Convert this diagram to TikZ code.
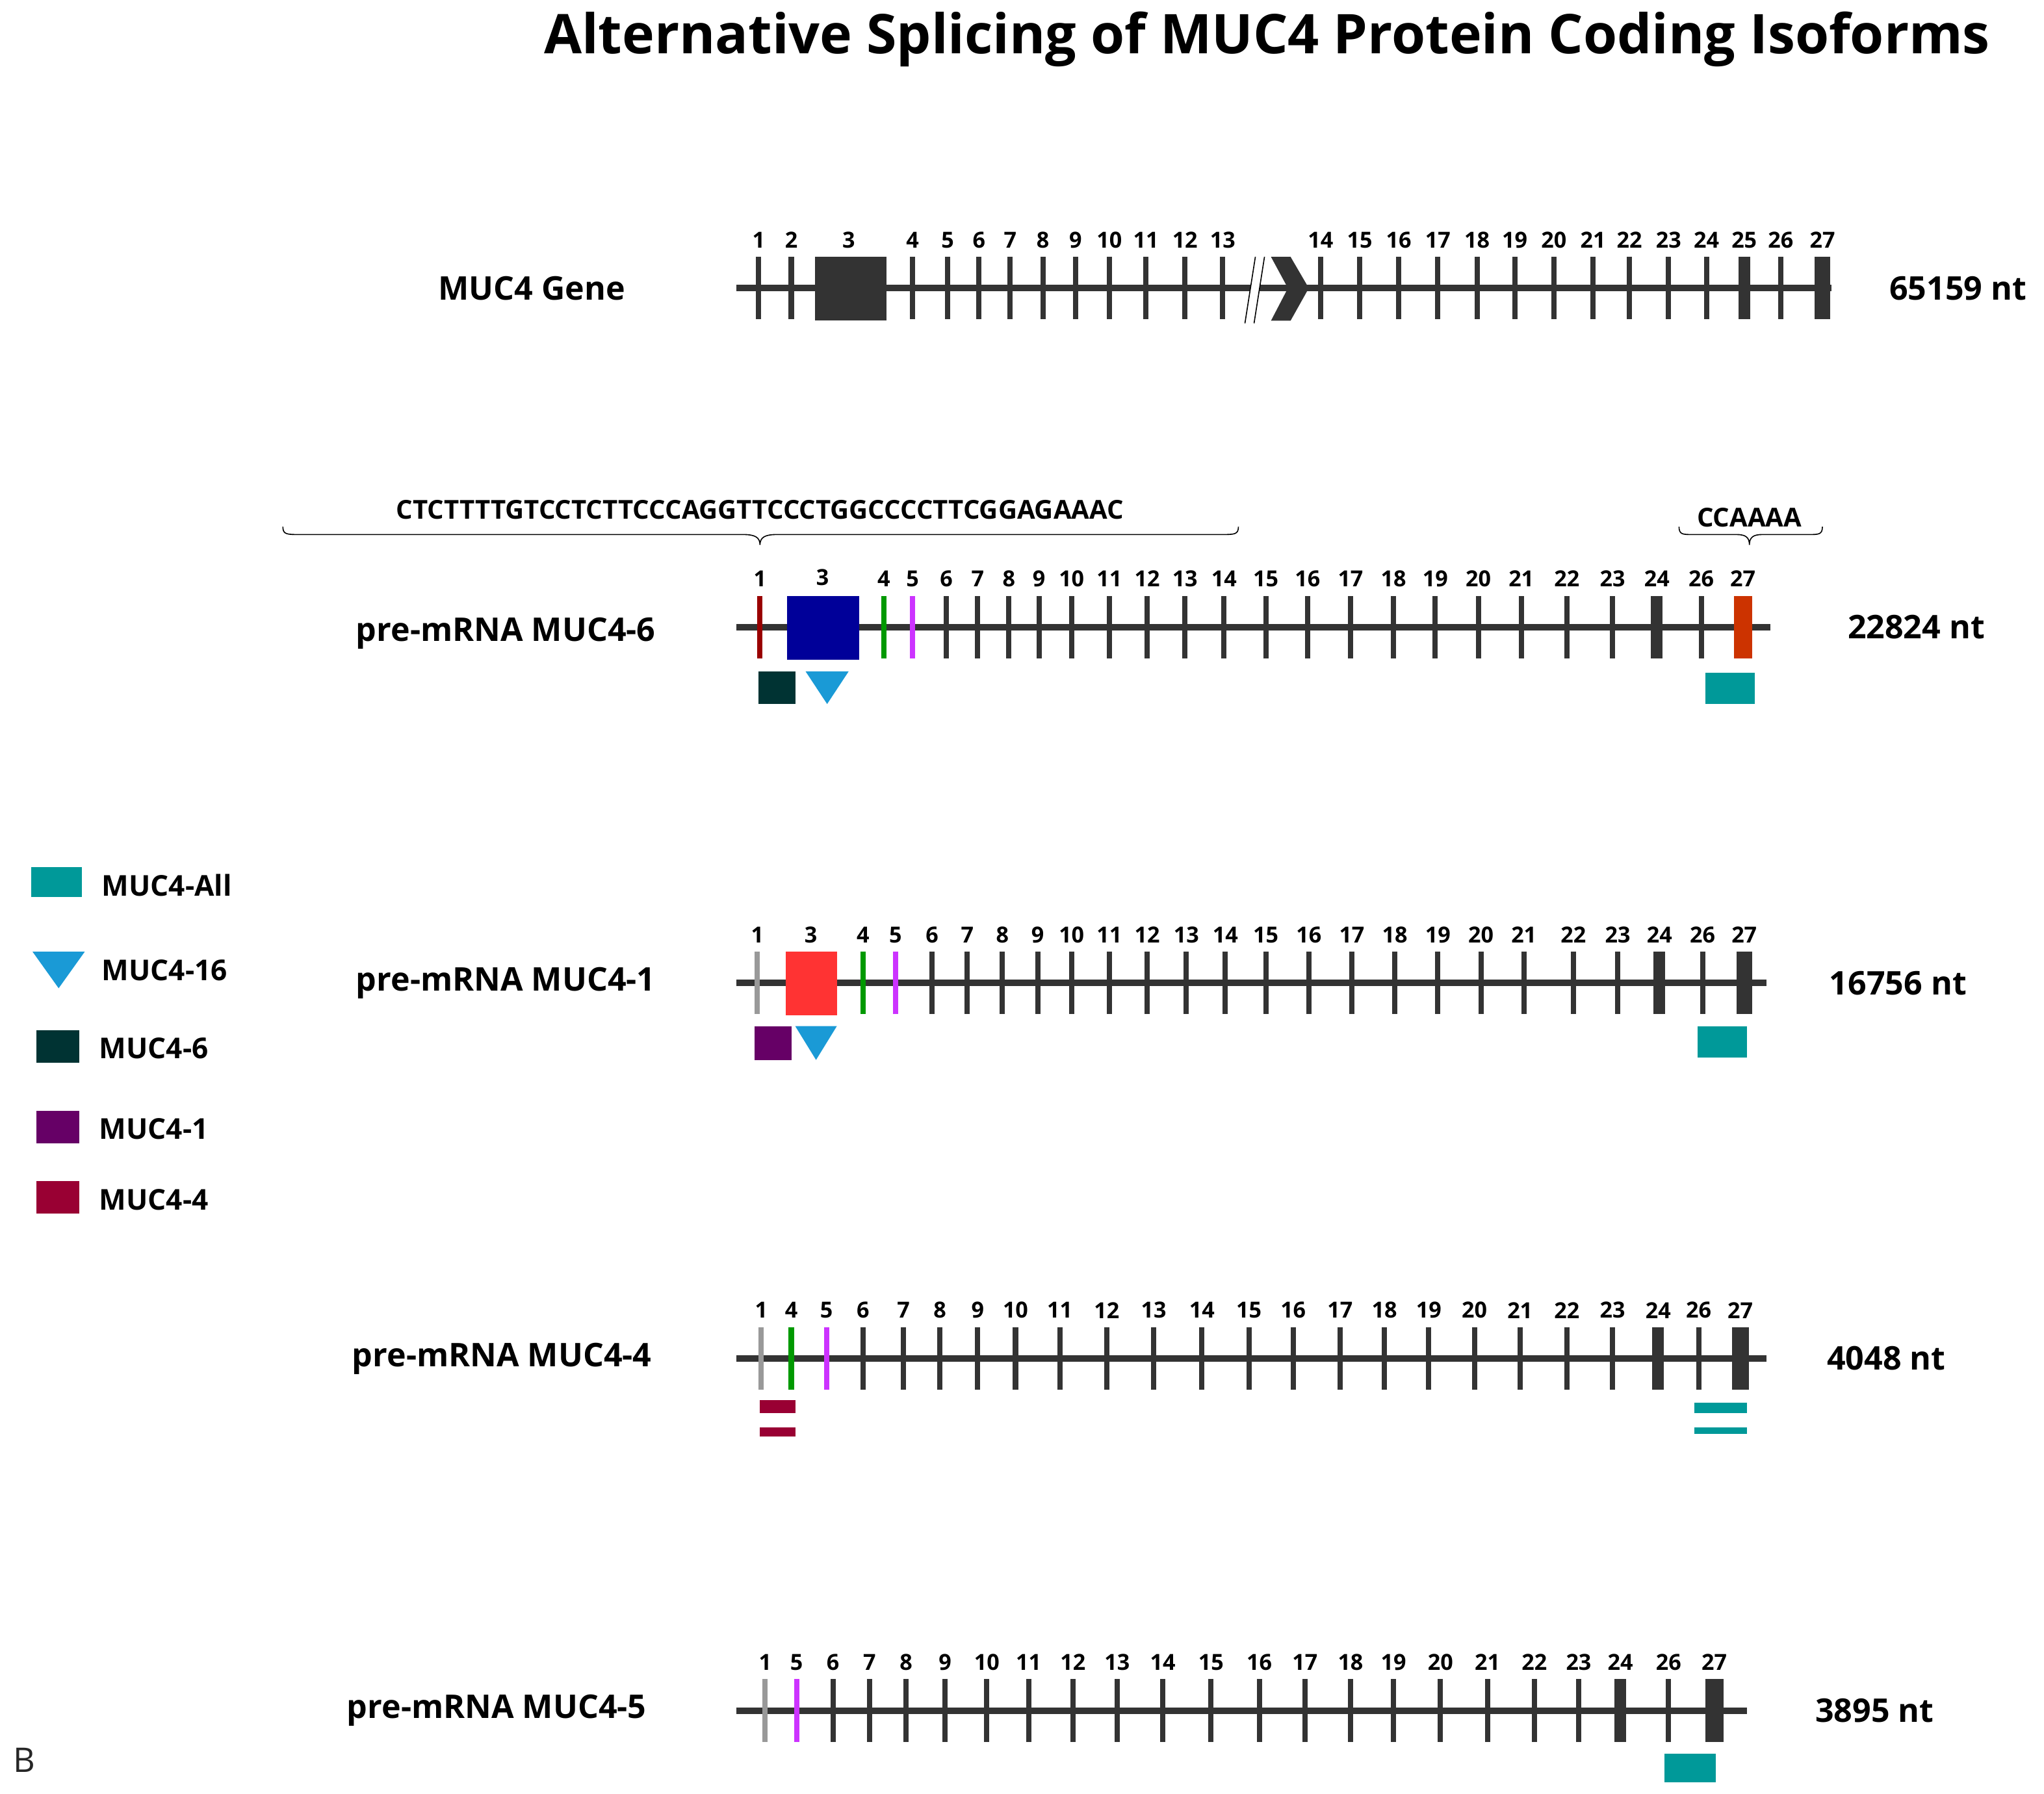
\documentclass[tikz,border=0pt]{standalone}
\usepackage{fontspec}
\setmainfont{Open Sans}
\begin{document}
\begin{tikzpicture}[x=1pt,y=-1pt,
  num/.style={font=\fontsize{17}{17}\selectfont\bfseries,inner sep=0},
  lab/.style={font=\fontsize{25}{25}\selectfont\bfseries,inner sep=0},
  bb/.style={line width=5pt,draw=black!80},
]
\definecolor{ex}{HTML}{333333}
\definecolor{teal}{HTML}{009999}
\definecolor{cyan}{HTML}{1A9AD6}
\definecolor{dteal}{HTML}{003333}
\definecolor{purp}{HTML}{660066}
\definecolor{crim}{HTML}{990033}
\definecolor{navy}{HTML}{000099}
\definecolor{lred}{HTML}{FF3333}
\definecolor{orng}{HTML}{CC3300}
\definecolor{dred}{HTML}{990000}
\definecolor{grn}{HTML}{009900}
\definecolor{mag}{HTML}{CC33FF}
\definecolor{gry}{HTML}{999999}
\useasboundingbox (0,0) rectangle (1568,1376);
\newcommand\thin[3]{\foreach \x/\l in {#2}{\fill[#3] (\x-2,#1-24) rectangle (\x+2,#1+24); \node[num] at (\x,#1-37) {\l};}}
\newcommand\thick[4]{\foreach \x/\l in {#2}{\fill[#4] (\x-#3,#1-24) rectangle (\x+#3,#1+24); \node[num] at (\x,#1-37) {\l};}}
\node[font=\fontsize{42}{42}\selectfont\bfseries,inner sep=0] (title) at (972,30) {Alternative Splicing of MUC4 Protein Coding Isoforms};
% Gene
\draw[bb] (565,221) -- (1405,221);
\thin{221}{582/1,607/2,700/4,727/5,751/6,775/7,800/8,825/9,851/10,879/11,909/12,938/13,1013/14,1043/15,1073/16,1103/17,1133/18,1162/19,1192/20,1222/21,1250/22,1280/23,1309/24,1366/26}{ex}
\thick{221}{1338/25}{4.5}{ex}
\thick{221}{1398/27}{6}{ex}
\fill[ex] (625,197) rectangle (680,246); \node[num] at (651,184) {3};
\fill[white] (955,248) -- (963,197) -- (970,197) -- (962,248) -- cycle;
\draw[line width=0.8pt] (955,248) -- (963,197) (962,248) -- (970,197);
\fill[ex] (975,197) -- (990,197) -- (1004,221) -- (990,246) -- (975,246) -- (988,221) -- cycle;
\node[lab] (g) at (408,221) {MUC4 Gene};
\node[lab] (gnt) at (1502,221) {65159 nt};
% MUC4-6
\draw[bb] (565,481) -- (1358,481);
\thin{481}{726/6,750/7,774/8,797/9,822/10,851/11,880/12,909/13,939/14,971/15,1003/16,1036/17,1069/18,1101/19,1134/20,1167/21,1202/22,1237/23,1305/26}{ex}
\thin{481}{583/1}{dred}\thin{481}{678/4}{grn}\thin{481}{700/5}{mag}
\thick{481}{1271/24}{4.5}{ex}
\thick{481}{1337/27}{7}{orng}
\fill[navy] (604,457) rectangle (659,506); \node[num] at (631,443) {3};
\node[lab] at (388,486) {pre-mRNA MUC4-6};
\node[lab] at (1470,481) {22824 nt};
\fill[dteal] (582,515) rectangle (610,540);
\fill[cyan] (618,515) -- (651,515) -- (634.5,540) -- cycle;
\fill[teal] (1308,516) rectangle (1346,540);
\node[font=\fontsize{20}{20}\selectfont\bfseries,inner sep=0] at (583,391) {CTCTTTTGTCCTCTTCCCAGGTTCCCTGGCCCCTTCGGAGAAAC};
\draw[line width=0.8pt] (217,404) .. controls (217,410) and (220,410) .. (230,410) -- (570,410) .. controls (579,410) and (583,412) .. (583,418) .. controls (583,412) and (587,410) .. (596,410) -- (937,410) .. controls (947,410) and (950,410) .. (950,404);
\node[font=\fontsize{20}{20}\selectfont\bfseries,inner sep=0] at (1342,397) {CCAAAA};
\draw[line width=0.8pt] (1288,404) .. controls (1288,410) and (1291,410) .. (1298,410) -- (1332,410) .. controls (1339,410) and (1342,412) .. (1342,418) .. controls (1342,412) and (1345,410) .. (1352,410) -- (1388,410) .. controls (1395,410) and (1398,410) .. (1398,404);
% MUC4-1
\draw[bb] (565,754) -- (1355,754);
\thin{754}{715/6,742/7,769/8,796/9,822/10,851/11,880/12,910/13,940/14,971/15,1004/16,1037/17,1070/18,1103/19,1136/20,1169/21,1207/22,1241/23,1306/26}{ex}
\thin{754}{581/1}{gry}\thin{754}{662/4}{grn}\thin{754}{687/5}{mag}
\thick{754}{1273/24}{4.5}{ex}
\thick{754}{1338/27}{6}{ex}
\fill[lred] (603,730) rectangle (642,779); \node[num] at (622,717) {3};
\node[lab] at (388,754) {pre-mRNA MUC4-1};
\node[lab] at (1456,754) {16756 nt};
\fill[purp] (579,787) rectangle (607,813);
\fill[cyan] (610,787) -- (642,787) -- (626,813) -- cycle;
\fill[teal] (1302,787) rectangle (1340,811);
% MUC4-4
\draw[bb] (565,1042) -- (1355,1042);
\thin{1042}{662/6,693/7,721/8,750/9,779/10,813/11,849/12,885/13,922/14,958/15,992/16,1028/17,1062/18,1096/19,1131/20,1166/21,1202/22,1237/23,1303/26}{ex}
\thin{1042}{584/1}{gry}\thin{1042}{607/4}{grn}\thin{1042}{634/5}{mag}
\thick{1042}{1272/24}{4.5}{ex}
\thick{1042}{1335/27}{6.5}{ex}
\node[lab] at (385,1042) {pre-mRNA MUC4-4};
\node[lab] at (1447,1042) {4048 nt};
\fill[crim] (583,1074) rectangle (610,1084);
\fill[crim] (583,1095) rectangle (610,1102);
\fill[teal] (1300,1076) rectangle (1340,1084);
\fill[teal] (1300,1095) rectangle (1340,1100);
% MUC4-5
\draw[bb] (565,1312) -- (1340,1312);
\thin{1312}{639/6,667/7,695/8,725/9,757/10,789/11,823/12,857/13,892/14,929/15,966/16,1001/17,1036/18,1069/19,1105/20,1141/21,1177/22,1211/23,1280/26}{ex}
\thin{1312}{587/1}{gry}\thin{1312}{611/5}{mag}
\thick{1312}{1243/24}{4.5}{ex}
\thick{1312}{1315/27}{7}{ex}
\node[lab] at (381,1312) {pre-mRNA MUC4-5};
\node[lab] at (1438,1312) {3895 nt};
\fill[teal] (1277,1345) rectangle (1316,1367);
% legend
\tikzset{lg/.style={font=\fontsize{22}{22}\selectfont\bfseries,inner sep=0,anchor=west}}
\fill[teal] (24,665) rectangle (63,688); \node[lg] at (78,679) {MUC4-All};
\fill[cyan] (25,730) -- (65,730) -- (45,758) -- cycle; \node[lg] at (78,744) {MUC4-16};
\fill[dteal] (28,790) rectangle (61,815); \node[lg] at (76,804) {MUC4-6};
\fill[purp] (28,852) rectangle (61,877); \node[lg] at (76,866) {MUC4-1};
\fill[crim] (28,906) rectangle (61,931); \node[lg] at (76,920) {MUC4-4};
\node[font=\fontsize{26}{26}\selectfont,text=black!85,inner sep=0,anchor=west] at (10,1350) {B};
\end{tikzpicture}
\end{document}
